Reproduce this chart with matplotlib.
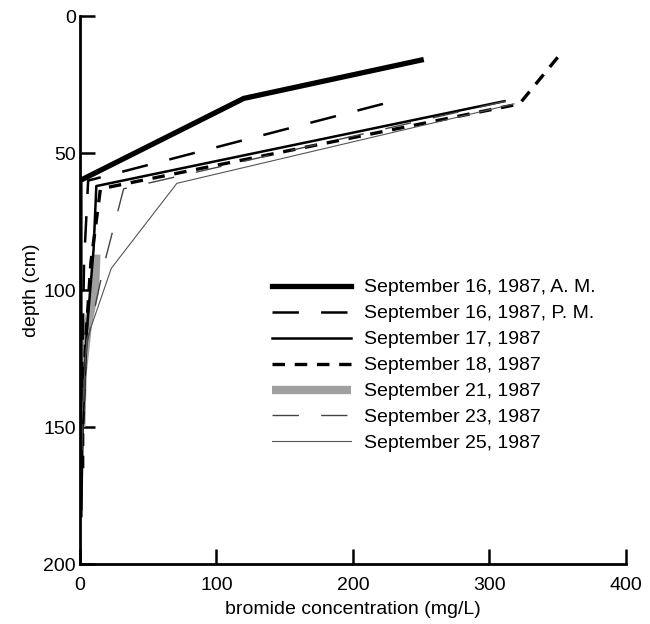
import matplotlib
matplotlib.use("Agg")
import matplotlib.pyplot as plt

plt.rcParams['font.family'] = ['Liberation Sans', 'DejaVu Sans']
plt.rcParams['lines.scale_dashes'] = False

# depth (cm) / bromide concentration (mg/L) profiles
depth_16am = [16, 30, 60, 90, 120, 150, 182]
conc_16am = [250, 120, 0, 0, 0, 0, 0]

depth_16pm = [32, 60, 90, 120, 150, 180]
conc_16pm = [222, 6, 3, 2, 1, 0]

depth_17 = [31, 62, 85, 115, 150, 180]
conc_17 = [311, 12, 10, 5, 2, 1]

depth_18 = [15, 32, 63, 90, 120, 150, 165]
conc_18 = [350, 322, 15, 8, 4, 2, 2]

depth_21 = [87, 100, 112, 130, 150]
conc_21 = [12, 11, 6, 2, 1]

depth_23 = [31, 63, 90, 120, 150, 180]
conc_23 = [312, 32, 18, 5, 2, 0]

depth_25 = [32, 61, 92, 118, 150, 180]
conc_25 = [318, 71, 23, 5, 1, 0]

labels = ['September 16, 1987, A. M.', 'September 16, 1987, P. M.',
          'September 17, 1987', 'September 18, 1987', 'September 21, 1987',
          'September 23, 1987', 'September 25, 1987']

fig = plt.figure(figsize=(6.5, 6.24), dpi=100)
ax = fig.add_axes([0.123, 0.096, 0.84, 0.878])

ax.plot(conc_21, depth_21, color='#a0a0a0', lw=6, solid_capstyle='butt', label=labels[4])
ax.plot(conc_16am, depth_16am, color='black', lw=3.8, label=labels[0])
ax.plot(conc_16pm, depth_16pm, color='black', lw=1.8, ls=(0, (19, 16)), label=labels[1])
ax.plot(conc_17, depth_17, color='black', lw=1.8, label=labels[2])
ax.plot(conc_18, depth_18, color='black', lw=2.4, ls=(0, (9, 7)), label=labels[3])
ax.plot(conc_23, depth_23, color='#444444', lw=1.0, ls=(0, (19, 16)), label=labels[5])
ax.plot(conc_25, depth_25, color='#555555', lw=0.8, label=labels[6])

ax.set_xlim(0, 400)
ax.set_ylim(200, 0)
ax.set_xticks([0, 100, 200, 300, 400])
ax.set_yticks([0, 50, 100, 150, 200])
ax.spines['top'].set_visible(False)
ax.spines['right'].set_visible(False)
for s in ['left', 'bottom']:
    ax.spines[s].set_linewidth(2)
ax.tick_params(direction='in', length=11, width=1.8, labelsize=14, pad=3)
ax.tick_params(axis='x', pad=9)
ax.set_xlabel('bromide concentration (mg/L)', fontsize=14, labelpad=5)
ax.set_ylabel('depth (cm)', fontsize=14, labelpad=2)

handles, labs = ax.get_legend_handles_labels()
order = [labs.index(l) for l in labels]
ax.legend([handles[i] for i in order], [labs[i] for i in order],
          loc='upper left', bbox_to_anchor=(0.397, 0.575), bbox_transform=fig.transFigure,
          frameon=False, fontsize=14, handlelength=4.1, labelspacing=0.43,
          handletextpad=0.65, borderpad=0.2)

fig.savefig('out.png', dpi=100)
